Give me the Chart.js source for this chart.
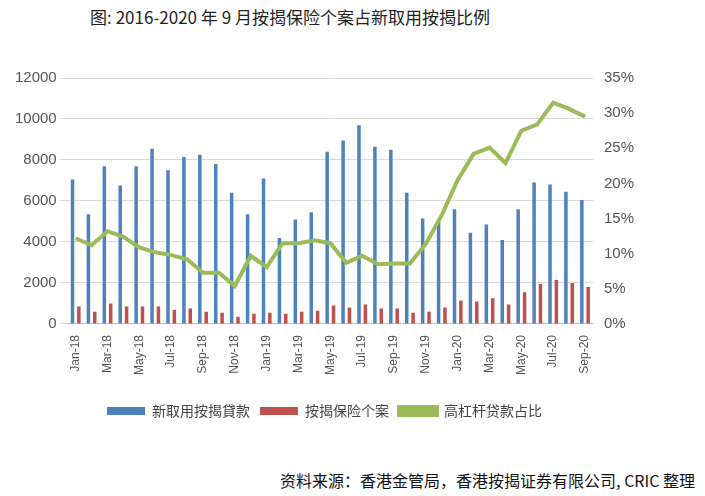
<!DOCTYPE html><html><head><meta charset="utf-8"><script src="https://cdn.jsdelivr.net/npm/chart.js"></script>
<style>body{margin:0;background:#fff;font-family:"Noto Sans CJK SC","Liberation Sans",sans-serif}
#t{position:absolute;left:0;width:580px;top:4px;text-align:center;font-size:17px;color:#222}
#s{position:absolute;right:10px;top:468px;font-size:16px;color:#111}
#w{position:absolute;left:0;top:66px;width:705px;height:362px}</style></head><body>
<div id="t">图: 2016-2020 年 9 月按揭保险个案占新取用按揭比例</div>
<div id="w"><canvas id="c"></canvas></div>
<div id="s">资料来源：香港金管局，香港按揭证券有限公司, CRIC 整理</div>
<script>
const labels=[];const mn=["Jan","Feb","Mar","Apr","May","Jun","Jul","Aug","Sep","Oct","Nov","Dec"];
for(let y=18;y<=20;y++)for(let m=0;m<12;m++){if(y==20&&m>8)break;labels.push(mn[m]+"-"+y);}
const newLoans=[7050,5350,7700,6750,7700,8550,7500,8150,8250,7800,6400,5350,7100,4200,5100,5450,8400,8950,9700,8650,8500,6400,5150,5000,5600,4450,4850,4100,5600,6900,6800,6450,6050];
const miCases=[850,600,1000,850,850,850,700,750,600,550,350,500,550,500,600,650,900,800,950,750,750,550,600,800,1150,1100,1250,950,1550,1950,2150,2000,1800];
const ratio=[12.2,11.2,13.2,12.4,10.9,10.2,9.8,9.2,7.3,7.3,5.4,9.7,8.1,11.5,11.5,11.9,11.5,8.7,9.7,8.5,8.6,8.6,11.4,15.5,20.5,24.2,25.1,22.9,27.5,28.4,31.5,30.6,29.5];
Chart.defaults.font.family='"Liberation Sans",sans-serif';Chart.defaults.color='#555';
new Chart(document.getElementById('c'),{data:{labels,datasets:[
{type:'bar',label:'新取用按揭貸款',data:newLoans,backgroundColor:'#4f81bd',yAxisID:'y',barPercentage:0.55,categoryPercentage:0.8,order:1},
{type:'bar',label:'按揭保险个案',data:miCases,backgroundColor:'#c0504d',yAxisID:'y',barPercentage:0.55,categoryPercentage:0.8,order:1},
{type:'line',label:'高杠杆贷款占比',data:ratio,yAxisID:'y1',borderColor:'#9bbb59',backgroundColor:'#9bbb59',borderWidth:4,pointRadius:0,tension:0,order:0}]},
options:{responsive:true,maintainAspectRatio:false,animation:false,layout:{padding:{left:12,right:68,top:0}},
plugins:{legend:{position:'bottom',labels:{sort:(a,b)=>a.datasetIndex-b.datasetIndex,boxWidth:38,boxHeight:8,font:{size:14,family:'"Noto Sans CJK SC"'},color:'#444'}},tooltip:{enabled:false}},
scales:{x:{afterFit:s=>{s.height+=16},grid:{display:false},border:{color:'#bbb'},ticks:{maxRotation:90,minRotation:90,autoSkip:false,callback:(v,i)=>i%2==0?labels[i]:'',font:{size:12}}},
y:{min:0,max:12000,ticks:{stepSize:2000,callback:v=>String(v),font:{size:15}},grid:{color:'#d9d9d9'},border:{display:false}},
y1:{position:'right',min:0,max:35,ticks:{stepSize:5,callback:v=>v+'%',font:{size:15}},grid:{display:false},border:{display:false}}}}});
</script></body></html>
